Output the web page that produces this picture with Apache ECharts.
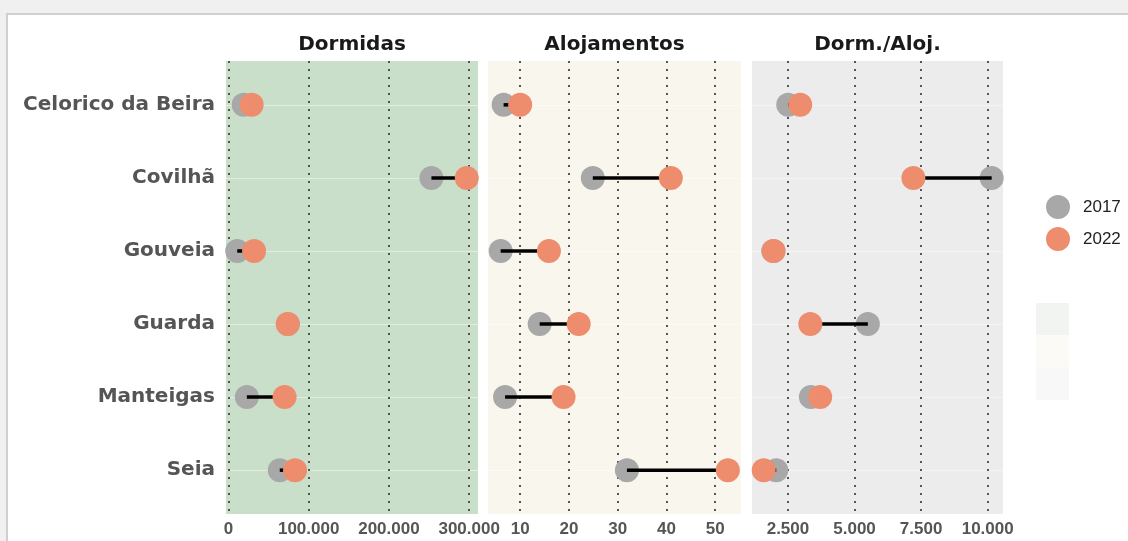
<!DOCTYPE html>
<html><head><meta charset="utf-8">
<script src="https://cdn.jsdelivr.net/npm/echarts@6/dist/echarts.min.js"></script>
<style>
html,body{margin:0;padding:0;background:#f0f0f0;width:1128px;height:541px;overflow:hidden}
#frame{position:absolute;left:6px;top:13px;width:1130px;height:540px;background:#fff;border:2px solid #cfcfcf;box-sizing:border-box}
#chart{position:absolute;left:0;top:0;width:1128px;height:541px}
</style></head><body><div id="frame"></div><div id="chart"></div>
<script>
const municipios = ['Celorico da Beira', 'Covilhã', 'Gouveia', 'Guarda', 'Manteigas', 'Seia'];
const panelTitles = ['Dormidas', 'Alojamentos', 'Dorm./Aloj.'];
const anos = ['2017', '2022'];
const dormidas2017 = [19000, 253000, 11000, 74000, 23000, 64000];
const dormidas2022 = [29000, 297000, 32000, 74000, 70000, 83000];
const alojamentos2017 = [6.6, 24.9, 6.0, 14.0, 6.9, 31.9];
const alojamentos2022 = [10.0, 40.9, 15.9, 22.0, 18.9, 52.6];
const dormAloj2017 = [2510, 10150, 1950, 5500, 3360, 2060];
const dormAloj2022 = [2960, 7210, 1960, 3340, 3710, 1590];
const ticksDormidas = [0, 100000, 200000, 300000];
const ticksAlojamentos = [10, 20, 30, 40, 50];
const ticksDormAloj = [2500, 5000, 7500, 10000];

const fmt = v => String(v).replace(/\B(?=(\d{3})+(?!\d))/g, '.');
const idx = municipios.map((_, i) => i);
const COL17 = '#a8a8a8', COL22 = '#ee8d6d';

const panels = [
  {title: panelTitles[0], v17: dormidas2017, v22: dormidas2022, ticks: ticksDormidas, min: -3000, max: 311000, left: 226, width: 252, bg: '#cadfca'},
  {title: panelTitles[1], v17: alojamentos2017, v22: alojamentos2022, ticks: ticksAlojamentos, min: 3.4, max: 55.3, left: 488, width: 253, bg: '#f9f6ed'},
  {title: panelTitles[2], v17: dormAloj2017, v22: dormAloj2022, ticks: ticksDormAloj, min: 1150, max: 10575, left: 752, width: 251, bg: '#ececec'}
];

const grid = [], xAxis = [], yAxis = [], series = [], title = [];
panels.forEach((p, g) => {
  grid.push({left: p.left, width: p.width, top: 61, height: 453, show: true, backgroundColor: p.bg, borderWidth: 0});
  title.push({text: p.title, left: p.left + p.width / 2, textAlign: 'center', top: 35, padding: 0,
    textStyle: {fontFamily: 'DejaVu Sans', fontWeight: 'bold', fontSize: 20, color: '#1a1a1a'}});
  xAxis.push({type: 'value', gridIndex: g, min: p.min, max: p.max,
    axisLine: {show: false},
    axisTick: {show: false, customValues: p.ticks},
    axisLabel: {customValues: p.ticks, formatter: fmt, margin: 7, fontFamily: 'Liberation Sans', fontWeight: 'bold', fontSize: 17, color: '#555'},
    splitLine: {show: true, lineStyle: {color: '#555', type: [2, 6], width: 2}}
  });
  yAxis.push({type: 'value', gridIndex: g, min: -0.6, max: 5.6, inverse: true,
    axisLine: {show: false},
    axisTick: {show: false, customValues: idx},
    axisLabel: {show: g === 0, customValues: idx, formatter: v => municipios[v] || '', margin: 11,
      fontFamily: 'DejaVu Sans', fontWeight: 'bold', fontSize: 20, color: '#555'},
    splitLine: {show: true, lineStyle: {color: 'rgba(255,255,255,0.45)', width: 1}}
  });
  series.push({type: 'scatter', name: anos[0], xAxisIndex: g, yAxisIndex: g, z: 2, clip: false,
    symbolSize: 24, itemStyle: {color: COL17, opacity: 1},
    data: p.v17.map((v, i) => [v, i])});
  series.push({type: 'custom', name: 'seg', xAxisIndex: g, yAxisIndex: g, z: 3, clip: false,
    encode: {x: [0, 1], y: 2},
    data: p.v17.map((v, i) => [v, p.v22[i], i]),
    renderItem: (params, api) => {
      const a = api.coord([api.value(0), api.value(2)]);
      const b = api.coord([api.value(1), api.value(2)]);
      return {type: 'line', shape: {x1: a[0], y1: a[1], x2: b[0], y2: b[1]}, style: {stroke: '#000', lineWidth: 3.5}};
    }});
  series.push({type: 'scatter', name: anos[1], xAxisIndex: g, yAxisIndex: g, z: 4, clip: false,
    symbolSize: 24, itemStyle: {color: COL22, opacity: 1},
    data: p.v22.map((v, i) => [v, i])});
});

const chart = echarts.init(document.getElementById('chart'), null, {renderer: 'canvas'});
chart.setOption({
  backgroundColor: 'transparent',
  animation: false,
  title, grid, xAxis, yAxis, series,
  legend: {orient: 'vertical', left: 1041, top: 190, itemWidth: 24, itemHeight: 24, itemGap: 8, icon: 'circle',
    data: anos, textStyle: {fontFamily: 'Liberation Sans', fontSize: 17, color: '#222', padding: [0, 0, 0, 8]}},
  graphic: [
    {type: 'rect', left: 1036, top: 303, shape: {width: 33, height: 32}, style: {fill: '#f1f4f1'}},
    {type: 'rect', left: 1036, top: 335, shape: {width: 33, height: 32}, style: {fill: '#fbfaf6'}},
    {type: 'rect', left: 1036, top: 367, shape: {width: 33, height: 33}, style: {fill: '#f8f8f8'}}
  ]
});
</script></body></html>
